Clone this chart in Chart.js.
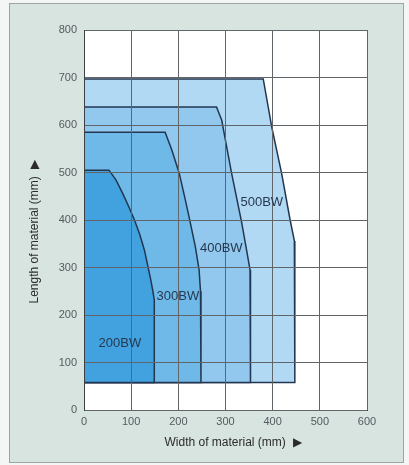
<!DOCTYPE html>
<html>
<head>
<meta charset="utf-8">
<script src="https://cdn.jsdelivr.net/npm/chart.js@4"></script>
<style>
  html, body { margin: 0; padding: 0; background: #f4f6f5; }
  #frame {
    position: absolute; left: 9px; top: 3px; width: 393px; height: 458px;
    border: 1px solid #9ba6a3; background: #d7e4e0;
  }
  #wrap { position: absolute; left: 0; top: 0; width: 409px; height: 465px; }
</style>
</head>
<body>
<div id="frame"></div>
<div id="wrap"><canvas id="chart" width="409" height="465"></canvas></div>
<script>
// machine sizes, smallest on top
const MODELS = ["200BW", "300BW", "400BW", "500BW"];
const FILLS = ["#42a2df", "#6fb9e9", "#92c8ee", "#b2d9f4"];

// outline of each working range: width (x) / length (y), mm
const X_200 = [0, 0, 53, 68, 82, 95, 107, 118, 128, 136, 142, 146, 149, 149, 0];
const Y_200 = [58, 505, 505, 484, 456, 428, 400, 370, 337, 300, 272, 250, 232, 58, 58];

const X_300 = [0, 0, 172, 186, 202, 214, 225, 236, 244, 247, 248, 248, 0];
const Y_300 = [58, 585, 585, 548, 498, 446, 396, 344, 295, 250, 215, 58, 58];

const X_400 = [0, 0, 281, 292, 313, 334, 345, 352, 353, 353, 0];
const Y_400 = [58, 638, 638, 610, 498, 396, 335, 295, 280, 58, 58];

const X_500 = [0, 0, 380, 398, 419, 437, 446, 447, 447, 0];
const Y_500 = [58, 697, 697, 596, 498, 400, 356, 351, 58, 58];

// label anchors (data units)
const LABEL_X = [76, 199, 291, 377];
const LABEL_Y = [141, 240, 340, 438];

const X_TICKS = [0, 100, 200, 300, 400, 500, 600];
const Y_TICKS = [0, 100, 200, 300, 400, 500, 600, 700, 800];

const FONT = "'Liberation Sans', Arial, sans-serif";

const toPoints = (xs, ys) => xs.map((x, i) => ({ x: x, y: ys[i] }));

const SHAPES = [
  toPoints(X_200, Y_200),
  toPoints(X_300, Y_300),
  toPoints(X_400, Y_400),
  toPoints(X_500, Y_500),
];

const datasets = MODELS.map((name, i) => ({
  label: name,
  data: SHAPES[i],
  borderColor: "#22374f",
  borderWidth: 1.5,
  backgroundColor: FILLS[i],
  fill: "shape",
  pointRadius: 0,
  tension: 0,
}));

// white plot area, labels and axis titles
const decorPlugin = {
  id: "decor",
  beforeDraw: (chart) => {
    const { ctx, chartArea } = chart;
    ctx.save();
    ctx.fillStyle = "#ffffff";
    ctx.fillRect(chartArea.left, chartArea.top,
      chartArea.right - chartArea.left, chartArea.bottom - chartArea.top);
    ctx.restore();
  },
  afterDraw: (chart) => {
    const { ctx, scales } = chart;
    ctx.save();
    ctx.font = "13px " + FONT;
    ctx.fillStyle = "#26384f";
    ctx.textAlign = "center";
    ctx.textBaseline = "middle";
    MODELS.forEach((name, i) => {
      ctx.fillText(name, scales.x.getPixelForValue(LABEL_X[i]),
        scales.y.getPixelForValue(LABEL_Y[i]));
    });

    // axis titles
    ctx.font = "12px " + FONT;
    ctx.fillStyle = "#2b2b2b";
    ctx.fillText("Width of material (mm)  \u25B6", 233, 443);

    ctx.translate(35, 232);
    ctx.rotate(-Math.PI / 2);
    ctx.fillText("Length of material (mm)  \u25B6", 0, 0);
    ctx.restore();
  },
};

const gridColor = "#5f6569";

new Chart(document.getElementById("chart"), {
  type: "line",
  data: { datasets: datasets },
  options: {
    responsive: false,
    animation: false,
    layout: { padding: { left: 0, right: 42, top: 30, bottom: 0 } },
    plugins: {
      legend: { display: false },
      tooltip: { enabled: false },
    },
    scales: {
      x: {
        type: "linear",
        min: 0,
        max: 600,
        afterFit: (scale) => { scale.height = 55; },
        afterBuildTicks: (scale) => {
          scale.ticks = X_TICKS.map((v) => ({ value: v }));
        },
        grid: { color: gridColor, lineWidth: 1, drawTicks: false, z: 1 },
        border: { color: "#3c4145", width: 1, z: 1 },
        ticks: {
          padding: 5,
          color: "#555a5e",
          font: { family: FONT, size: 11 },
        },
      },
      y: {
        type: "linear",
        min: 0,
        max: 800,
        afterFit: (scale) => { scale.width = 84; },
        afterBuildTicks: (scale) => {
          scale.ticks = Y_TICKS.map((v) => ({ value: v }));
        },
        grid: { color: gridColor, lineWidth: 1, drawTicks: false, z: 1 },
        border: { color: "#3c4145", width: 1, z: 1 },
        ticks: {
          padding: 7,
          color: "#555a5e",
          font: { family: FONT, size: 11 },
        },
      },
    },
  },
  plugins: [decorPlugin],
});
</script>
</body>
</html>
